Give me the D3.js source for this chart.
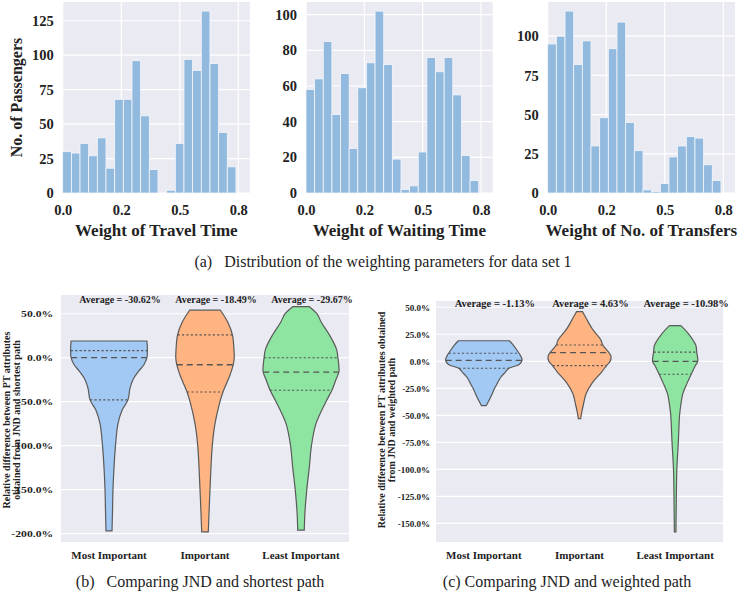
<!DOCTYPE html>
<html><head><meta charset="utf-8">
<script src="https://cdn.jsdelivr.net/npm/d3@7"></script>
<style>
body{margin:0;background:#fff;}
text{font-family:"Liberation Serif","Times New Roman",serif;fill:#222;}
</style></head><body>
<svg id="chart" width="752" height="591"></svg>
<script>
// ---------- data: histograms (data set 1) ----------
const binEdges = [0,0.037,0.074,0.111,0.148,0.185,0.222,0.259,0.296,0.333,0.37,0.407,0.444,0.481,0.518,0.555,0.592,0.629,0.666,0.703,0.74];
const travelTimeCounts = [30,29,36,27,40,18,68,68,96,56,17,0,2,36,97,89,132,94,44,19];
const waitingTimeCounts = [58,64,85,44,67,25,59,73,102,72,19,2,4,23,76,68,76,55,21,7];
const transfersCounts = [95,100,116,82,97,30,48,92,109,45,27,2,1,6,23,30,36,35,18,8];
const histXTicks = [0,0.25,0.5,0.75];
const histXTickLabels = ["0.0","0.2","0.5","0.8"];
const travelYTicks = [0,25,50,75,100,125];
const waitingYTicks = [0,20,40,60,80,100];
const transfersYTicks = [0,25,50,75,100];
const histTitles = ["Weight of Travel Time","Weight of Waiting Time","Weight of No. of Transfers"];

// ---------- data: violins ----------
const importanceCategories = ["Most Important","Important","Least Important"];
// [value %, density]
const shortestMost = [[19,38],[10,38.5],[0,38],[-8,35],[-15,30],[-25,24],[-35,21],[-48,19],[-60,13],[-75,9],[-100,6.5],[-125,5],[-150,4],[-175,3.5],[-197,3]];
const shortestImp = [[54,15.5],[40,23],[26,27.5],[10,29],[0,29.3],[-8,28.3],[-20,25],[-39,18],[-50,15],[-75,10],[-100,7.3],[-150,5],[-198,3.3]];
const shortestLeast = [[58,8.3],[50,16],[40,20.5],[25,29],[10,35.5],[0,37],[-16,38],[-25,35],[-37,31],[-50,25],[-75,15],[-100,10.5],[-125,8.3],[-150,5.8],[-175,4],[-196,3.3]];
const shortestQuartiles = [[-48,0,8],[-39,-8,26],[-37,-16.5,0]];
const shortestAverages = ["Average = -30.62%","Average = -18.49%","Average = -29.67%"];
const shortestYTicks = [50,0,-50,-100,-150,-200];

const weightedMost = [[19,26],[15,30],[10,34],[5,37.5],[1,39],[-3,36],[-6.5,25.5],[-10,22],[-15,17],[-20,14],[-25,11],[-30,8.5],[-35,6],[-41,2.5]];
const weightedImp = [[46,3],[40,6.7],[30,13],[20,21.7],[15,23.7],[8,30],[5,32],[0,31.3],[-4,27.5],[-10,22.5],[-20,13],[-30,6.7],[-40,4],[-47,2.3],[-53,1.2]];
const weightedLeast = [[33,5.8],[25,14],[15,21],[8.3,22],[0,23],[-5,20],[-12,16.3],[-20,12.3],[-30,7.8],[-40,5.8],[-50,4.5],[-75,3.2],[-100,1.7],[-125,1.2],[-158,0.8]];
const weightedQuartiles = [[-6.5,0.8,7.5],[-4,8,15],[-12,0,8.5]];
const weightedAverages = ["Average = -1.13%","Average = 4.63%","Average = -10.98%"];
const weightedYTicks = [50,25,0,-25,-50,-75,-100,-125,-150];

const captions = ["(a)   Distribution of the weighting parameters for data set 1","(b)   Comparing JND and shortest path","(c) Comparing JND and weighted path"];

const violinColors = ["#a1c9f4","#ffb482","#8de5a1"];
const svg = d3.select("#chart");
const BG = "#eaeaf2";

function histPanel(counts, yTicks, title, left, right, top, bottom, showYLabel){
  const g = svg.append("g");
  const x = d3.scaleLinear().domain([0,0.8]).range([left,right]);
  const y = d3.scaleLinear().domain([0, d3.max(counts)*1.05]).range([bottom, top]);
  g.append("rect").attr("x",left).attr("y",top).attr("width",right-left).attr("height",bottom-top).attr("fill",BG);
  g.selectAll(".hg").data(yTicks).join("line").attr("x1",left).attr("x2",right)
    .attr("y1",d=>y(d)).attr("y2",d=>y(d)).attr("stroke","#fff").attr("stroke-width",1.2);
  g.selectAll(".vg").data(histXTicks).join("line").attr("y1",top).attr("y2",bottom)
    .attr("x1",d=>x(d)).attr("x2",d=>x(d)).attr("stroke","#fff").attr("stroke-width",1.2);
  g.selectAll(".bar").data(counts).join("rect")
    .attr("x",(d,i)=>x(binEdges[i])).attr("width",(d,i)=>x(binEdges[i+1])-x(binEdges[i]))
    .attr("y",d=>y(d)).attr("height",d=>y(0)-y(d))
    .attr("fill","#92badf").attr("stroke","#f4f6fb").attr("stroke-width",0.8);
  const ya = d3.axisLeft(y).tickValues(yTicks).tickSize(0).tickPadding(9);
  const ga = g.append("g").attr("transform",`translate(${left},0)`).call(ya);
  ga.select(".domain").remove();
  ga.selectAll("text").style("font-family","Liberation Serif").style("font-size","14.5px").style("font-weight","bold").attr("fill","#222");
  const xa = d3.axisBottom(x).tickValues(histXTicks).tickFormat((d,i)=>histXTickLabels[i]).tickSize(0).tickPadding(12);
  const gx = g.append("g").attr("transform",`translate(0,${bottom})`).call(xa);
  gx.select(".domain").remove();
  gx.selectAll("text").style("font-family","Liberation Serif").style("font-size","14.5px").style("font-weight","bold").attr("fill","#222");
  g.append("text").attr("x",(left+right)/2).attr("y",236).attr("text-anchor","middle")
    .style("font-size","17px").style("font-weight","bold").text(title);
  if(showYLabel){
    g.append("text").attr("transform",`translate(22,${(top+bottom)/2}) rotate(-90)`).attr("text-anchor","middle")
      .style("font-size","16px").style("font-weight","bold").text("No. of Passengers");
  }
}

histPanel(travelTimeCounts, travelYTicks, histTitles[0], 62.7, 250, 2, 193, true);
histPanel(waitingTimeCounts, waitingYTicks, histTitles[1], 306, 492.7, 2, 193, false);
histPanel(transfersCounts, transfersYTicks, histTitles[2], 547.7, 735, 2, 193, false);

svg.append("text").attr("x",383).attr("y",267).attr("text-anchor","middle")
  .style("white-space","pre").style("font-size","16px").text(captions[0]);

function violinPanel(profiles, quartiles, averages, yTicks, yDomain, left, right, top, bottom, yLabelLines, labelX, avgY, avgSize, caption, capX, tickScale){
  const g = svg.append("g");
  const x = d3.scaleBand().domain(importanceCategories).range([left,right]);
  const y = d3.scaleLinear().domain(yDomain).range([bottom, top]);
  g.append("rect").attr("x",left).attr("y",top).attr("width",right-left).attr("height",bottom-top).attr("fill",BG);
  g.selectAll(".hg").data(yTicks).join("line").attr("x1",left).attr("x2",right)
    .attr("y1",d=>y(d)).attr("y2",d=>y(d)).attr("stroke","#fff").attr("stroke-width",1.2);
  const allD = profiles.flat().map(d=>d[1]);
  const w = d3.scaleLinear().domain([0,d3.max(allD)]).range([0,x.bandwidth()*0.4]);
  profiles.forEach((p,i)=>{
    const cx = x(importanceCategories[i]) + x.bandwidth()/2;
    const area = d3.area().y(d=>y(d[0])).x0(d=>cx-w(d[1])).x1(d=>cx+w(d[1])).curve(d3.curveCatmullRom.alpha(0.5));
    g.append("path").attr("d",area(p)).attr("fill",violinColors[i]).attr("stroke","#5a5a5a").attr("stroke-width",1.2);
    const dens = d3.scaleLinear().domain(p.map(d=>d[0])).range(p.map(d=>d[1]));
    quartiles[i].forEach((q,k)=>{
      const hw = w(dens(q));
      g.append("line").attr("x1",cx-hw).attr("x2",cx+hw).attr("y1",y(q)).attr("y2",y(q))
        .attr("stroke","#555").attr("stroke-width",k===1?1.3:1.1)
        .attr("stroke-dasharray",k===1?"6,4":"2.2,2.2");
    });
    g.append("text").attr("x",cx+11).attr("y",avgY).attr("text-anchor","middle")
      .style("font-size",avgSize+"px").style("font-weight","bold").text(averages[i]);
  });
  const ya = d3.axisLeft(y).tickValues(yTicks).tickFormat(d=>d.toFixed(1)+"%").tickSize(0).tickPadding(6);
  const ga = g.append("g").attr("transform",`translate(${left},0)`).call(ya);
  ga.select(".domain").remove();
  ga.selectAll("text").style("font-family","Liberation Serif").style("font-size","9px").style("font-weight","bold").attr("fill","#222")
    .attr("transform",`scale(${tickScale},1)`);
  const xa = d3.axisBottom(x).tickSize(0).tickPadding(9);
  const gx = g.append("g").attr("transform",`translate(0,${bottom})`).call(xa);
  gx.select(".domain").remove();
  gx.selectAll("text").style("font-family","Liberation Serif").style("font-size","11px").style("font-weight","bold").attr("fill","#222");
  const cy = 420;
  const lab = g.append("text").attr("transform",`translate(${labelX},${cy}) rotate(-90)`).attr("text-anchor","middle")
    .style("font-size","10px").style("font-weight","bold");
  yLabelLines.forEach((t,k)=>lab.append("tspan").attr("x",0).attr("dy",k===0?0:"0.95em").text(t));
  svg.append("text").attr("x",capX).attr("y",587).attr("text-anchor","middle")
    .style("white-space","pre").style("font-size","16px").text(caption);
}

violinPanel([shortestMost,shortestImp,shortestLeast], shortestQuartiles, shortestAverages, shortestYTicks,
  [-209.6,71.3], 61, 349, 295, 542,
  ["Relative difference between PT attributes","obtained from JND and shortest path"], 10, 303, 10, captions[1], 200, 1.3);
violinPanel([weightedMost,weightedImp,weightedLeast], weightedQuartiles, weightedAverages, weightedYTicks,
  [-167.3,55.8], 436, 723, 301, 542,
  ["Relative difference between PT attributes obtained","from JND and weighted path"], 385, 307, 10.5, captions[2], 567, 1);
</script>
</body></html>
